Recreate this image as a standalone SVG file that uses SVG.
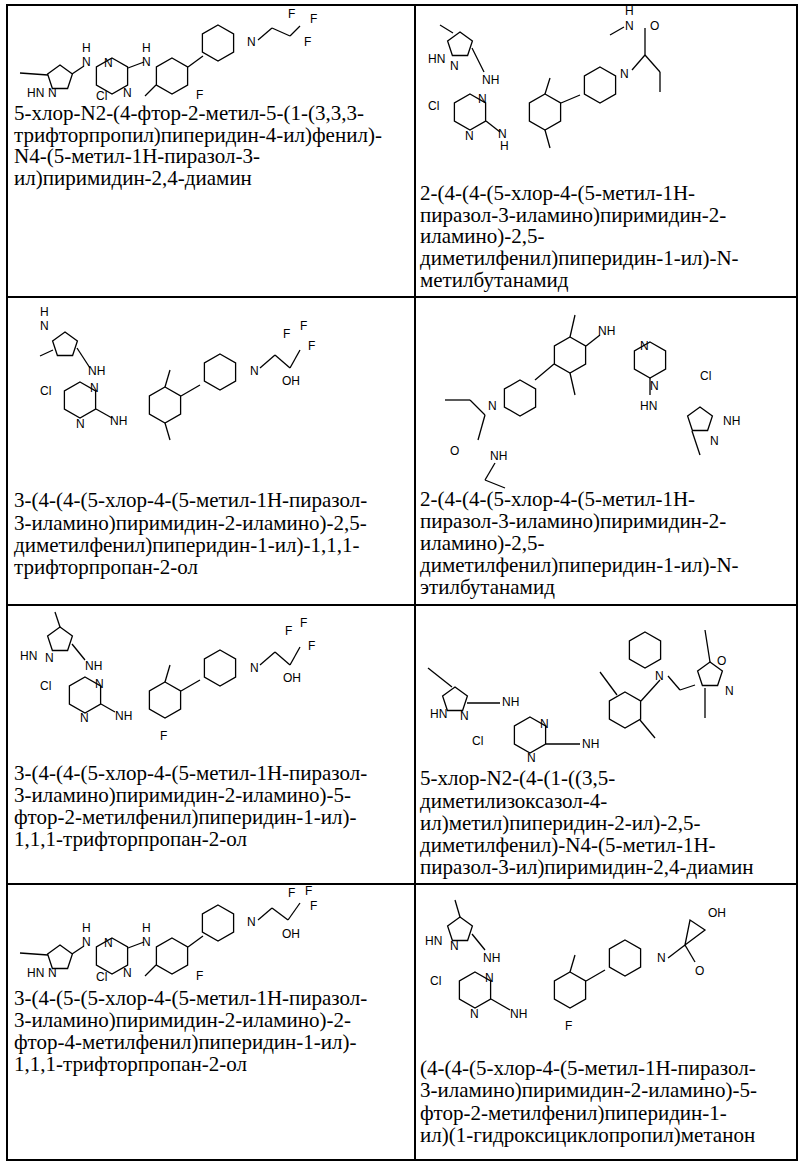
<svg xmlns="http://www.w3.org/2000/svg" width="800" height="1164" viewBox="0 0 800 1164">
<style>
.t{font-family:"Liberation Serif","DejaVu Serif",serif;font-size:21px;fill:#000}
.a{font-family:"Liberation Sans",sans-serif;font-size:12px;fill:#000}
.b{fill:none;stroke:#000;stroke-width:1.3}
.g{stroke:#000;stroke-width:2;fill:none}
</style>
<defs>
<polygon id="hx" class="b" points="0,-18 15.6,-9 15.6,9 0,18 -15.6,9 -15.6,-9"/>
<polygon id="pt" class="b" points="0,-13 12.4,-4 7.6,10.5 -7.6,10.5 -12.4,-4"/>
</defs>
<rect x="0" y="0" width="800" height="1164" fill="#fff"/>
<g id="grid" class="g">
<rect x="7" y="5" width="790" height="1155"/>
<line x1="415" y1="5" x2="415" y2="1160"/>
<line x1="7" y1="297" x2="797" y2="297"/>
<line x1="7" y1="605" x2="797" y2="605"/>
<line x1="7" y1="884" x2="797" y2="884"/>
</g>
<g id="connectors"></g>

<g id="c1">
<use href="#pt" x="60" y="78"/><line class="b" x1="20" y1="73" x2="48" y2="75"/>
<text class="a" x="27" y="97">HN</text><text class="a" x="48" y="97">N</text>
<line class="b" x1="72" y1="74" x2="84" y2="66"/><text class="a" x="82" y="66">N</text><text class="a" x="82" y="52">H</text>
<use href="#hx" x="112" y="76"/><text class="a" x="104" y="67">N</text><text class="a" x="123" y="97">N</text>
<text class="a" x="96" y="100">Cl</text>
<line class="b" x1="128" y1="68" x2="144" y2="62"/><text class="a" x="142" y="66">N</text><text class="a" x="142" y="52">H</text>
<use href="#hx" x="172" y="76"/><line class="b" x1="156" y1="85" x2="145" y2="96"/>
<text class="a" x="196" y="99">F</text>
<line class="b" x1="188" y1="67" x2="203" y2="56"/>
<use href="#hx" x="218" y="43"/><text class="a" x="247" y="46">N</text>
<line class="b" x1="258" y1="40" x2="272" y2="28"/><line class="b" x1="272" y1="28" x2="290" y2="36"/><line class="b" x1="290" y1="36" x2="300" y2="26"/>
<text class="a" x="288" y="18">F</text><text class="a" x="310" y="23">F</text><text class="a" x="304" y="46">F</text>
</g>
<g id="t1" class="t">
<text x="14" y="120">5-хлор-N2-(4-фтор-2-метил-5-(1-(3,3,3-</text>
<text x="14" y="142">трифторпропил)пиперидин-4-ил)фенил)-</text>
<text x="14" y="163">N4-(5-метил-1Н-пиразол-3-</text>
<text x="14" y="185">ил)пиримидин-2,4-диамин</text>
</g>

<g id="c2">
<use href="#pt" x="460" y="45"/><line class="b" x1="453" y1="33" x2="440" y2="25"/>
<text class="a" x="428" y="63">HN</text><text class="a" x="450" y="70">N</text>
<line class="b" x1="472" y1="48" x2="484" y2="72"/><text class="a" x="482" y="84">NH</text>
<use href="#hx" x="470" y="112"/><text class="a" x="478" y="103">N</text><text class="a" x="465" y="140">N</text>
<text class="a" x="428" y="110">Cl</text>
<line class="b" x1="486" y1="121" x2="500" y2="132"/><text class="a" x="498" y="138">N</text><text class="a" x="500" y="150">H</text>
<use href="#hx" x="545" y="112"/><line class="b" x1="545" y1="94" x2="550" y2="78"/><line class="b" x1="545" y1="130" x2="550" y2="148"/>
<line class="b" x1="561" y1="103" x2="580" y2="95"/>
<use href="#hx" x="600" y="85"/><text class="a" x="620" y="78">N</text>
<line class="b" x1="632" y1="70" x2="645" y2="55"/><line class="b" x1="645" y1="55" x2="645" y2="28"/><text class="a" x="650" y="30">O</text>
<text class="a" x="625" y="30">N</text><text class="a" x="625" y="15">H</text><line class="b" x1="624" y1="27" x2="610" y2="35"/>
<line class="b" x1="645" y1="55" x2="660" y2="72"/><line class="b" x1="660" y1="72" x2="660" y2="92"/>
</g>
<g id="t2" class="t">
<text x="420" y="200">2-(4-(4-(5-хлор-4-(5-метил-1Н-</text>
<text x="420" y="222">пиразол-3-иламино)пиримидин-2-</text>
<text x="420" y="243">иламино)-2,5-</text>
<text x="420" y="265">диметилфенил)пиперидин-1-ил)-N-</text>
<text x="420" y="287">метилбутанамид</text>
</g>

<g id="c3">
<use href="#pt" x="65" y="345"/><text class="a" x="40" y="330">N</text><text class="a" x="40" y="316">H</text>
<line class="b" x1="53" y1="350" x2="40" y2="356"/>
<line class="b" x1="77" y1="348" x2="90" y2="368"/><text class="a" x="88" y="375">NH</text>
<use href="#hx" x="80" y="400"/><text class="a" x="90" y="392">N</text><text class="a" x="76" y="428">N</text>
<text class="a" x="40" y="395">Cl</text>
<line class="b" x1="96" y1="409" x2="112" y2="418"/><text class="a" x="110" y="425">NH</text>
<use href="#hx" x="165" y="405"/><line class="b" x1="165" y1="387" x2="170" y2="370"/><line class="b" x1="165" y1="423" x2="170" y2="440"/>
<line class="b" x1="181" y1="396" x2="200" y2="385"/>
<use href="#hx" x="220" y="372"/><text class="a" x="250" y="375">N</text>
<line class="b" x1="260" y1="368" x2="275" y2="355"/><line class="b" x1="275" y1="355" x2="290" y2="368"/><line class="b" x1="290" y1="368" x2="300" y2="350"/>
<text class="a" x="282" y="385">OH</text>
<text class="a" x="283" y="338">F</text><text class="a" x="300" y="330">F</text><text class="a" x="308" y="350">F</text>
</g>
<g id="t3" class="t">
<text x="14" y="507">3-(4-(4-(5-хлор-4-(5-метил-1Н-пиразол-</text>
<text x="14" y="530">3-иламино)пиримидин-2-иламино)-2,5-</text>
<text x="14" y="552">диметилфенил)пиперидин-1-ил)-1,1,1-</text>
<text x="14" y="574">трифторпропан-2-ол</text>
</g>

<g id="c4">
<use href="#hx" x="570" y="355"/><line class="b" x1="570" y1="337" x2="575" y2="315"/><line class="b" x1="570" y1="373" x2="575" y2="395"/>
<line class="b" x1="586" y1="346" x2="600" y2="335"/><text class="a" x="598" y="335">NH</text>
<use href="#hx" x="650" y="360"/><text class="a" x="640" y="350">N</text><text class="a" x="650" y="390">N</text>
<text class="a" x="700" y="380">Cl</text>
<line class="b" x1="650" y1="378" x2="650" y2="395"/><text class="a" x="640" y="410">HN</text>
<use href="#pt" x="700" y="420"/><text class="a" x="723" y="425">NH</text><text class="a" x="710" y="445">N</text>
<line class="b" x1="692" y1="431" x2="700" y2="455"/>
<line class="b" x1="554" y1="364" x2="535" y2="380"/>
<use href="#hx" x="520" y="398"/><text class="a" x="488" y="410">N</text>
<line class="b" x1="485" y1="415" x2="470" y2="400"/><line class="b" x1="470" y1="400" x2="445" y2="400"/>
<line class="b" x1="485" y1="415" x2="478" y2="440"/><text class="a" x="450" y="455">O</text>
<text class="a" x="490" y="460">NH</text><line class="b" x1="495" y1="463" x2="485" y2="480"/><line class="b" x1="485" y1="480" x2="505" y2="488"/>
</g>
<g id="t4" class="t">
<text x="420" y="506">2-(4-(4-(5-хлор-4-(5-метил-1Н-</text>
<text x="420" y="528">пиразол-3-иламино)пиримидин-2-</text>
<text x="420" y="550">иламино)-2,5-</text>
<text x="420" y="572">диметилфенил)пиперидин-1-ил)-N-</text>
<text x="420" y="594">этилбутанамид</text>
</g>

<g id="c5">
<use href="#pt" x="60" y="640"/><line class="b" x1="60" y1="627" x2="55" y2="612"/>
<text class="a" x="20" y="660">HN</text><text class="a" x="45" y="662">N</text>
<line class="b" x1="72" y1="644" x2="85" y2="660"/><text class="a" x="85" y="670">NH</text>
<use href="#hx" x="85" y="695"/><text class="a" x="95" y="688">N</text><text class="a" x="80" y="722">N</text>
<text class="a" x="40" y="690">Cl</text>
<line class="b" x1="101" y1="704" x2="115" y2="712"/><text class="a" x="115" y="720">NH</text>
<use href="#hx" x="165" y="700"/><line class="b" x1="165" y1="682" x2="170" y2="665"/><text class="a" x="160" y="740">F</text>
<line class="b" x1="181" y1="691" x2="200" y2="680"/>
<use href="#hx" x="220" y="668"/><text class="a" x="250" y="672">N</text>
<line class="b" x1="260" y1="665" x2="275" y2="652"/><line class="b" x1="275" y1="652" x2="290" y2="665"/><line class="b" x1="290" y1="665" x2="300" y2="647"/>
<text class="a" x="283" y="682">OH</text>
<text class="a" x="285" y="635">F</text><text class="a" x="300" y="627">F</text><text class="a" x="308" y="650">F</text>
</g>
<g id="t5" class="t">
<text x="14" y="780">3-(4-(4-(5-хлор-4-(5-метил-1Н-пиразол-</text>
<text x="14" y="802">3-иламино)пиримидин-2-иламино)-5-</text>
<text x="14" y="824">фтор-2-метилфенил)пиперидин-1-ил)-</text>
<text x="14" y="846">1,1,1-трифторпропан-2-ол</text>
</g>

<g id="c6">
<use href="#pt" x="455" y="700"/><line class="b" x1="452" y1="687" x2="428" y2="668"/>
<text class="a" x="430" y="718">HN</text><text class="a" x="460" y="720">N</text>
<line class="b" x1="467" y1="703" x2="500" y2="703"/><text class="a" x="502" y="706">NH</text>
<use href="#hx" x="530" y="735"/><text class="a" x="540" y="728">N</text><text class="a" x="527" y="762">N</text>
<text class="a" x="472" y="745">Cl</text>
<line class="b" x1="546" y1="744" x2="580" y2="744"/><text class="a" x="582" y="748">NH</text>
<use href="#hx" x="625" y="710"/><line class="b" x1="617" y1="695" x2="600" y2="672"/><line class="b" x1="640" y1="720" x2="655" y2="738"/>
<line class="b" x1="641" y1="701" x2="660" y2="680"/>
<use href="#hx" x="645" y="650"/><text class="a" x="655" y="680">N</text>
<line class="b" x1="668" y1="676" x2="680" y2="690"/><line class="b" x1="680" y1="690" x2="695" y2="685"/>
<use href="#pt" x="710" y="675"/><text class="a" x="717" y="665">O</text><text class="a" x="725" y="695">N</text>
<line class="b" x1="710" y1="662" x2="705" y2="630"/><line class="b" x1="705" y1="688" x2="705" y2="718"/>
</g>
<g id="t6" class="t">
<text x="420" y="785">5-хлор-N2-(4-(1-((3,5-</text>
<text x="420" y="808">диметилизоксазол-4-</text>
<text x="420" y="830">ил)метил)пиперидин-2-ил)-2,5-</text>
<text x="420" y="852">диметилфенил)-N4-(5-метил-1Н-</text>
<text x="420" y="874">пиразол-3-ил)пиримидин-2,4-диамин</text>
</g>

<g id="c7">
<use href="#pt" x="60" y="958"/><line class="b" x1="20" y1="953" x2="48" y2="955"/>
<text class="a" x="27" y="977">HN</text><text class="a" x="48" y="977">N</text>
<line class="b" x1="72" y1="954" x2="84" y2="946"/><text class="a" x="82" y="946">N</text><text class="a" x="82" y="932">H</text>
<use href="#hx" x="112" y="956"/><text class="a" x="104" y="947">N</text><text class="a" x="123" y="977">N</text>
<text class="a" x="96" y="981">Cl</text>
<line class="b" x1="128" y1="948" x2="144" y2="942"/><text class="a" x="142" y="946">N</text><text class="a" x="142" y="932">H</text>
<use href="#hx" x="172" y="956"/><line class="b" x1="156" y1="965" x2="145" y2="976"/>
<text class="a" x="196" y="980">F</text>
<line class="b" x1="188" y1="947" x2="203" y2="936"/>
<use href="#hx" x="218" y="923"/><text class="a" x="247" y="926">N</text>
<line class="b" x1="258" y1="920" x2="272" y2="908"/><line class="b" x1="272" y1="908" x2="288" y2="920"/><line class="b" x1="288" y1="920" x2="300" y2="903"/>
<text class="a" x="282" y="938">OH</text>
<text class="a" x="288" y="897">F</text><text class="a" x="305" y="895">F</text><text class="a" x="310" y="910">F</text>
</g>
<g id="t7" class="t">
<text x="14" y="1005">3-(4-(5-(5-хлор-4-(5-метил-1Н-пиразол-</text>
<text x="14" y="1027">3-иламино)пиримидин-2-иламино)-2-</text>
<text x="14" y="1049">фтор-4-метилфенил)пиперидин-1-ил)-</text>
<text x="14" y="1071">1,1,1-трифторпропан-2-ол</text>
</g>

<g id="c8">
<use href="#pt" x="460" y="930"/><line class="b" x1="460" y1="917" x2="455" y2="900"/>
<text class="a" x="425" y="945">HN</text><text class="a" x="450" y="950">N</text>
<line class="b" x1="472" y1="934" x2="485" y2="950"/><text class="a" x="483" y="962">NH</text>
<use href="#hx" x="475" y="990"/><text class="a" x="485" y="982">N</text><text class="a" x="470" y="1018">N</text>
<text class="a" x="430" y="985">Cl</text>
<line class="b" x1="491" y1="999" x2="510" y2="1010"/><text class="a" x="510" y="1018">NH</text>
<use href="#hx" x="570" y="990"/><line class="b" x1="570" y1="972" x2="575" y2="955"/><text class="a" x="565" y="1030">F</text>
<line class="b" x1="586" y1="981" x2="605" y2="970"/>
<use href="#hx" x="625" y="958"/><text class="a" x="657" y="962">N</text>
<line class="b" x1="668" y1="958" x2="685" y2="945"/><line class="b" x1="685" y1="945" x2="695" y2="962"/><text class="a" x="695" y="975">O</text>
<polygon class="b" points="685,945 690,920 705,930"/>
<text class="a" x="708" y="917">OH</text>
</g>
<g id="t8" class="t">
<text x="420" y="1075">(4-(4-(5-хлор-4-(5-метил-1Н-пиразол-</text>
<text x="420" y="1097">3-иламино)пиримидин-2-иламино)-5-</text>
<text x="420" y="1120">фтор-2-метилфенил)пиперидин-1-</text>
<text x="420" y="1142">ил)(1-гидроксициклопропил)метанон</text>
</g>
</svg>
